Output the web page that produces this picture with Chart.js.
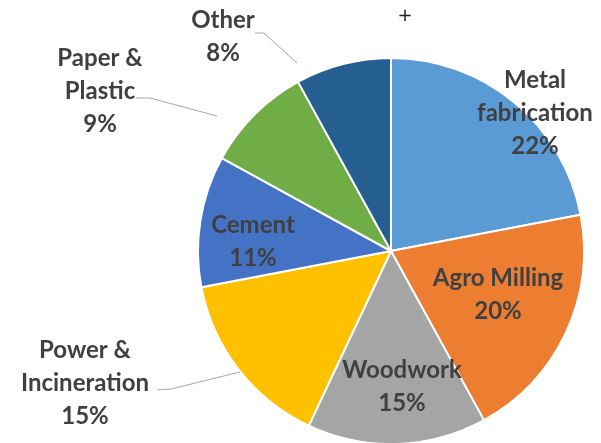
<!DOCTYPE html>
<html>
<head>
<meta charset="utf-8">
<script src="https://cdn.jsdelivr.net/npm/chart.js@4.4.0/dist/chart.umd.min.js"></script>
<style>
  html, body { margin: 0; padding: 0; background: #fff; overflow: hidden; }
  #wrap { width: 601px; height: 445px; position: relative; }
</style>
</head>
<body>
<div id="wrap"><canvas id="pie-chart"></canvas></div>
<script>
const categories = ['Metal fabrication', 'Agro Milling', 'Woodwork', 'Power & Incineration', 'Cement', 'Paper & Plastic', 'Other'];
const shares = [22, 20, 15, 15, 11, 9, 8];
const sliceColors = ['#5B9BD5', '#ED7D31', '#A5A5A5', '#FFC000', '#4472C4', '#70AD47', '#255E91'];

// label layout: text lines, centre position, optional leader line
const labelLayout = [
    { lines: ['Metal', 'fabrication', '22%'], x: 535, y: 80 },
    { lines: ['Agro Milling', '20%'], x: 498, y: 278 },
    { lines: ['Woodwork', '15%'], x: 402, y: 370 },
    { lines: ['Power &', 'Incineration', '15%'], x: 85, y: 350, leader: [[157, 390], [171, 389], [240, 372]] },
    { lines: ['Cement', '11%'], x: 253, y: 225 },
    { lines: ['Paper &', 'Plastic', '9%'], x: 100, y: 58, leader: [[136, 98], [150, 98], [217, 116]] },
    { lines: ['Other', '8%'], x: 223, y: 20, leader: [[255, 33], [264, 33], [297, 63]] }
];

const sliceLabels = {
    id: 'sliceLabels',
    afterDatasetsDraw(chart) {
        const ctx = chart.ctx;
        ctx.save();
        labelLayout.forEach(item => {
            if (item.leader) {
                ctx.strokeStyle = '#A6A6A6';
                ctx.lineWidth = 1;
                ctx.beginPath();
                item.leader.forEach((p, i) => i ? ctx.lineTo(p[0], p[1]) : ctx.moveTo(p[0], p[1]));
                ctx.stroke();
            }
            ctx.fillStyle = '#404040';
            ctx.font = 'bold 24px Lato';
            ctx.textAlign = 'center';
            ctx.textBaseline = 'middle';
            item.lines.forEach((line, i) => ctx.fillText(line, item.x, item.y + i * 33));
        });
        ctx.font = '18px "DejaVu Sans"';
        ctx.fillStyle = '#202020';
        ctx.fillText('+', 405, 16);
        ctx.restore();
    }
};

new Chart(document.getElementById('pie-chart'), {
    type: 'pie',
    data: {
        labels: categories,
        datasets: [{
            data: shares,
            backgroundColor: sliceColors,
            borderColor: '#ffffff',
            borderWidth: 2
        }]
    },
    options: {
        responsive: true,
        maintainAspectRatio: false,
        animation: false,
        layout: {
            padding: { top: 57, left: 197, right: 16, bottom: 0 }
        },
        plugins: {
            legend: { display: false },
            tooltip: { enabled: false }
        }
    },
    plugins: [sliceLabels]
});
</script>
</body>
</html>
